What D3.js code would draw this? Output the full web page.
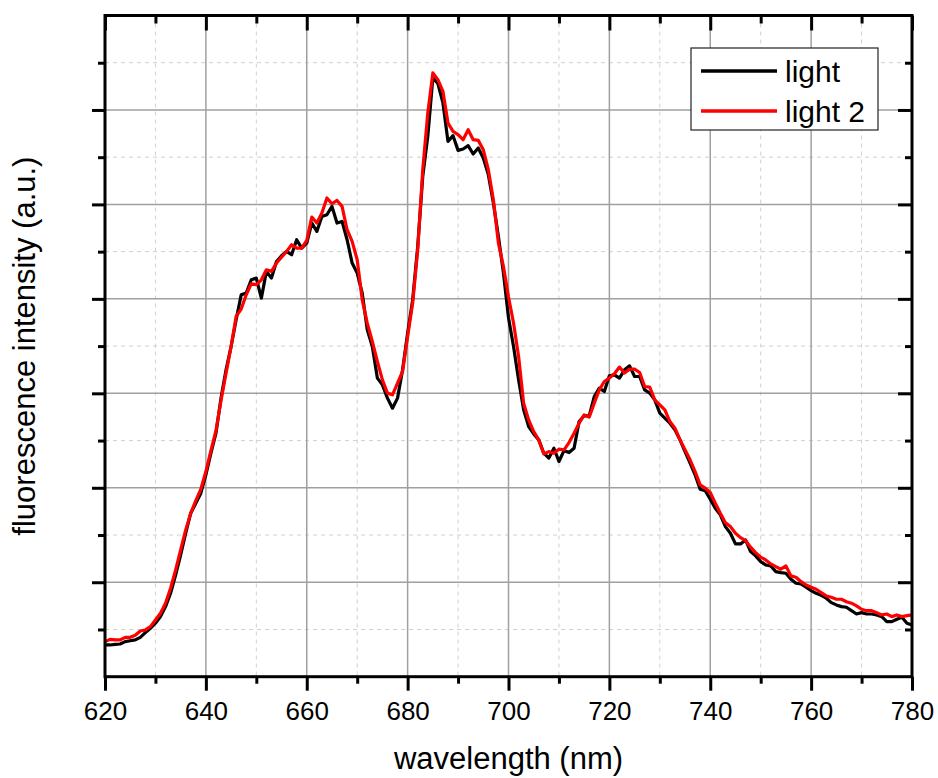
<!DOCTYPE html>
<html>
<head>
<meta charset="utf-8">
<script src="https://cdn.jsdelivr.net/npm/d3@7"></script>
<style>
  body { margin: 0; background: #fff; }
  svg { display: block; font-family: Arial, "Liberation Sans", sans-serif; }
</style>
</head>
<body>
<svg id="chart" width="938" height="778"></svg>
<script>
//// data (wavelength in nm, intensity in arbitrary units)
var wavelength = d3.range(620, 781, 1);

var light = [
  0.336,0.336,0.343,0.346,0.371,0.381,0.389,0.417,0.466,0.513,
  0.566,0.636,0.742,0.883,1.077,1.289,1.519,1.731,1.837,1.943,
  2.137,2.366,2.578,2.949,3.249,3.496,3.779,4.043,4.061,4.202,
  4.220,4.008,4.291,4.220,4.396,4.457,4.502,4.467,4.626,4.538,
  4.591,4.803,4.714,4.873,4.891,4.979,4.803,4.820,4.626,4.379,
  4.273,4.061,3.673,3.496,3.161,3.090,2.949,2.843,2.949,3.249,
  3.638,3.990,4.555,5.297,5.720,6.340,6.280,6.074,5.667,5.728,
  5.572,5.587,5.622,5.534,5.597,5.492,5.315,5.015,4.661,4.273,
  3.800,3.496,3.143,2.825,2.648,2.571,2.507,2.366,2.314,2.419,
  2.278,2.394,2.373,2.419,2.701,2.762,2.762,2.966,3.055,3.019,
  3.185,3.196,3.161,3.249,3.291,3.178,3.178,3.037,3.002,2.931,
  2.790,2.737,2.684,2.613,2.507,2.383,2.261,2.137,1.985,1.970,
  1.880,1.784,1.713,1.589,1.519,1.406,1.406,1.448,1.324,1.279,
  1.218,1.183,1.173,1.112,1.102,1.095,1.032,0.989,0.982,0.947,
  0.911,0.883,0.862,0.831,0.784,0.760,0.742,0.735,0.699,0.664,
  0.678,0.664,0.664,0.654,0.636,0.583,0.583,0.608,0.629,0.566,
  0.548
];

var light2 = [
  0.371,0.395,0.389,0.389,0.417,0.417,0.438,0.484,0.495,0.530,
  0.600,0.671,0.777,0.936,1.130,1.342,1.554,1.731,1.865,1.985,
  2.172,2.394,2.606,2.924,3.214,3.496,3.814,3.892,4.043,4.160,
  4.149,4.202,4.308,4.291,4.379,4.442,4.502,4.573,4.538,4.538,
  4.620,4.866,4.803,4.909,5.068,5.007,5.042,4.979,4.732,4.608,
  4.414,3.990,3.744,3.549,3.337,3.143,3.002,2.984,3.108,3.231,
  3.602,3.955,4.520,5.368,5.968,6.392,6.321,6.197,5.862,5.773,
  5.738,5.685,5.791,5.685,5.678,5.579,5.368,5.050,4.591,4.343,
  4.020,3.744,3.390,2.896,2.719,2.595,2.507,2.359,2.383,2.366,
  2.409,2.402,2.479,2.578,2.684,2.772,2.748,2.896,3.037,3.125,
  3.161,3.207,3.278,3.214,3.256,3.256,3.220,3.072,3.066,2.931,
  2.878,2.825,2.701,2.631,2.507,2.402,2.296,2.172,2.031,1.996,
  1.950,1.837,1.731,1.631,1.589,1.519,1.472,1.441,1.371,1.314,
  1.265,1.236,1.194,1.165,1.138,1.173,1.067,1.053,1.006,0.971,
  0.947,0.926,0.890,0.855,0.841,0.820,0.820,0.794,0.778,0.749,
  0.714,0.699,0.699,0.678,0.654,0.664,0.636,0.654,0.636,0.646,
  0.654
];

var seriesNames = ["light", "light 2"];
var seriesColors = ["#000000", "#ff0000"];
var xTicks = [620, 640, 660, 680, 700, 720, 740, 760, 780];

//// layout  (note: "top" is taken by window.top, so plot edges get their own names)
var svg = d3.select("svg#chart");
var plotL = 105, plotR = 912, plotT = 15.5, plotB = 676.7;

var x = d3.scaleLinear().domain([620, 780]).range([plotL, plotR]);
var y = d3.scaleLinear().domain([0, 7]).range([plotB, plotT]);

var xMinorVals = d3.range(630, 780, 20);
var yMajorVals = d3.range(1, 7, 1);
var yMinorVals = d3.range(0.5, 7, 1);

// grid
var grid = svg.append("g");
grid.selectAll("line.mnx").data(xMinorVals).enter().append("line")
    .attr("x1", function(d) { return x(d); }).attr("x2", function(d) { return x(d); })
    .attr("y1", plotT).attr("y2", plotB)
    .attr("stroke", "#d0d0d0").attr("stroke-width", 1).attr("stroke-dasharray", "4,4");
grid.selectAll("line.mny").data(yMinorVals).enter().append("line")
    .attr("x1", plotL).attr("x2", plotR)
    .attr("y1", function(d) { return y(d); }).attr("y2", function(d) { return y(d); })
    .attr("stroke", "#d0d0d0").attr("stroke-width", 1).attr("stroke-dasharray", "4,4");
grid.selectAll("line.mjx").data(xTicks.slice(1, -1)).enter().append("line")
    .attr("x1", function(d) { return x(d); }).attr("x2", function(d) { return x(d); })
    .attr("y1", plotT).attr("y2", plotB)
    .attr("stroke", "#a0a0a0").attr("stroke-width", 1.5);
grid.selectAll("line.mjy").data(yMajorVals).enter().append("line")
    .attr("x1", plotL).attr("x2", plotR)
    .attr("y1", function(d) { return y(d); }).attr("y2", function(d) { return y(d); })
    .attr("stroke", "#a0a0a0").attr("stroke-width", 1.5);

// curves
var line = d3.line()
    .x(function(d) { return x(d[0]); })
    .y(function(d) { return y(d[1]); });

[light, light2].forEach(function(vals, i) {
  svg.append("path")
     .datum(wavelength.map(function(w, j) { return [w, vals[j]]; }))
     .attr("d", line)
     .attr("fill", "none")
     .attr("stroke", seriesColors[i])
     .attr("stroke-width", 3.2)
     .attr("stroke-linejoin", "round");
});

// axes: bottom/left ticks point out, top/right ticks point in
function tickStyle(g) {
  g.select(".domain").remove();
  g.selectAll("line").attr("stroke", "#000").attr("stroke-width", 3);
}

var gx = svg.append("g").attr("transform", "translate(0," + plotB + ")")
   .call(d3.axisBottom(x).tickValues(xTicks).tickSize(14).tickPadding(11).tickFormat(d3.format("d")))
   .call(tickStyle);
gx.selectAll(".tick text").attr("font-size", 26).attr("fill", "#000")
  .attr("font-family", "Arial, 'Liberation Sans', sans-serif");

svg.append("g").attr("transform", "translate(0," + plotB + ")")
   .call(d3.axisBottom(x).tickValues(xMinorVals).tickSize(7).tickFormat(""))
   .call(tickStyle);

svg.append("g").attr("transform", "translate(0," + plotT + ")")
   .call(d3.axisBottom(x).tickValues(xTicks).tickSize(15).tickFormat(""))
   .call(tickStyle);
svg.append("g").attr("transform", "translate(0," + plotT + ")")
   .call(d3.axisBottom(x).tickValues(xMinorVals).tickSize(8).tickFormat(""))
   .call(tickStyle);

svg.append("g").attr("transform", "translate(" + plotL + ",0)")
   .call(d3.axisLeft(y).tickValues(yMajorVals).tickSize(13).tickFormat(""))
   .call(tickStyle);
svg.append("g").attr("transform", "translate(" + plotL + ",0)")
   .call(d3.axisLeft(y).tickValues(yMinorVals).tickSize(7).tickFormat(""))
   .call(tickStyle);

svg.append("g").attr("transform", "translate(" + plotR + ",0)")
   .call(d3.axisLeft(y).tickValues(yMajorVals).tickSize(14).tickFormat(""))
   .call(tickStyle);
svg.append("g").attr("transform", "translate(" + plotR + ",0)")
   .call(d3.axisLeft(y).tickValues(yMinorVals).tickSize(7).tickFormat(""))
   .call(tickStyle);

// frame
svg.append("rect")
   .attr("x", plotL).attr("y", plotT)
   .attr("width", plotR - plotL).attr("height", plotB - plotT)
   .attr("fill", "none").attr("stroke", "#000").attr("stroke-width", 3);

// axis titles
svg.append("text")
   .attr("x", (plotL + plotR) / 2).attr("y", 769)
   .attr("text-anchor", "middle").attr("font-size", 31)
   .text("wavelength (nm)");

svg.append("text")
   .attr("transform", "translate(35," + (plotT + plotB) / 2 + ") rotate(-90)")
   .attr("text-anchor", "middle").attr("font-size", 31)
   .text("fluorescence intensity (a.u.)");

// legend
var legend = svg.append("g").attr("transform", "translate(691,48)");
legend.append("rect")
      .attr("width", 187).attr("height", 82)
      .attr("fill", "#fff").attr("stroke", "#222").attr("stroke-width", 1.2);
var items = legend.selectAll("g.item").data(seriesNames).enter().append("g")
      .attr("transform", function(d, i) { return "translate(0," + (23 + i * 40) + ")"; });
items.append("line")
     .attr("x1", 10).attr("x2", 86)
     .attr("stroke", function(d, i) { return seriesColors[i]; })
     .attr("stroke-width", 3.5);
items.append("text")
     .attr("x", 94).attr("dy", "0.35em")
     .attr("font-size", 30)
     .text(function(d) { return d; });
</script>
</body>
</html>
